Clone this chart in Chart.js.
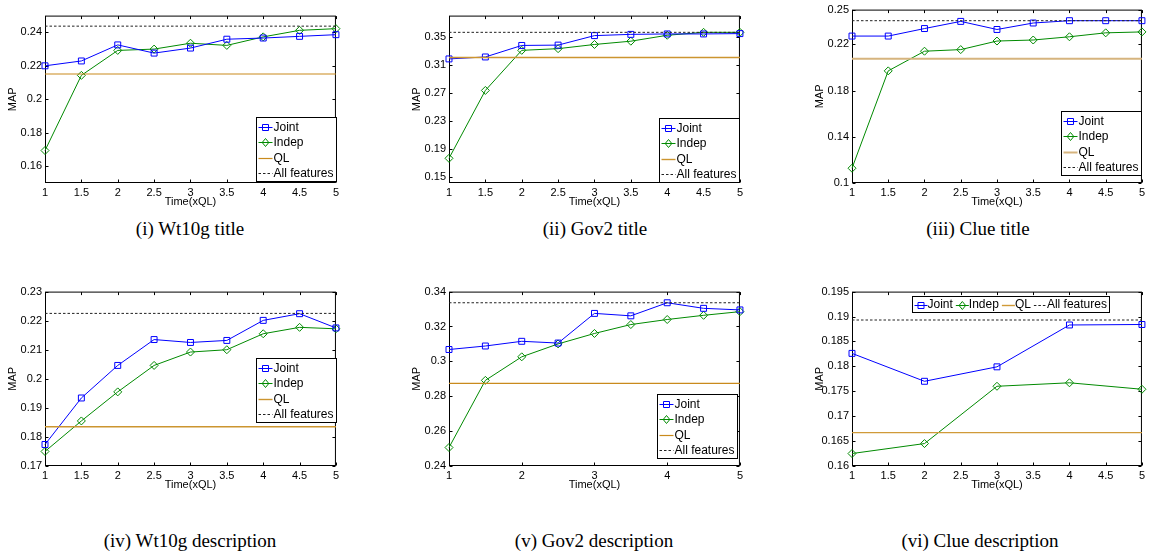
<!DOCTYPE html>
<html>
<head>
<meta charset="utf-8">
<script src="https://cdn.jsdelivr.net/npm/chart.js@4.4.1/dist/chart.umd.min.js"></script>
<style>
  html, body { margin: 0; padding: 0; background: #fff; overflow: hidden; }
  #wrap { position: relative; width: 1149px; height: 553px; background: #fff; }
  canvas { position: absolute; }
  .cap { position: absolute; font-family: "Liberation Serif", "Times New Roman", serif; font-size: 19px; color: #000; white-space: nowrap; transform: translate(-50%, -50%); }
</style>
</head>
<body>
<div id="wrap"></div>
<script>
// ---------------- DATA ----------------
const timeFine = [1, 1.5, 2, 2.5, 3, 3.5, 4, 4.5, 5];
const timeCoarse = [1, 2, 3, 4, 5];
const xTicksFine = [1, 1.5, 2, 2.5, 3, 3.5, 4, 4.5, 5];
const xTicksCoarse = [1, 2, 3, 4, 5];
const seriesNames = ['Joint', 'Indep', 'QL', 'All features'];

// (i) Wt10g title
const wt10gTitleJoint = [0.2200, 0.2229, 0.2325, 0.2276, 0.2306, 0.2359, 0.2366, 0.2376, 0.2386];
const wt10gTitleIndep = [0.1694, 0.2143, 0.2292, 0.2300, 0.2335, 0.2322, 0.2373, 0.2412, 0.2422];
const wt10gTitleQL = 0.2151;
const wt10gTitleAll = 0.2437;
const wt10gTitleYRange = [0.15, 0.25];
const wt10gTitleYTicks = [0.16, 0.18, 0.2, 0.22, 0.24];

// (ii) Gov2 title
const gov2TitleJoint = [0.3189, 0.3217, 0.3382, 0.3387, 0.3523, 0.3541, 0.3547, 0.3547, 0.3552];
const gov2TitleIndep = [0.1764, 0.2737, 0.3312, 0.3336, 0.3396, 0.3443, 0.3528, 0.3570, 0.3570];
const gov2TitleQL = 0.3209;
const gov2TitleAll = 0.3570;
const gov2TitleYRange = [0.141, 0.381];
const gov2TitleYTicks = [0.15, 0.19, 0.23, 0.27, 0.31, 0.35];

// (iii) Clue title
const clueTitleJoint = [0.2271, 0.2271, 0.2336, 0.2398, 0.2328, 0.2384, 0.2404, 0.2404, 0.2404];
const clueTitleIndep = [0.1128, 0.1970, 0.2140, 0.2154, 0.2228, 0.2237, 0.2265, 0.2299, 0.2307];
const clueTitleQL = 0.2075;
const clueTitleAll = 0.2404;
const clueTitleYRange = [0.1, 0.25];
const clueTitleYTicks = [0.1, 0.14, 0.18, 0.22, 0.25];

// (iv) Wt10g description
const wt10gDescJoint = [0.1774, 0.1934, 0.2046, 0.2135, 0.2125, 0.2132, 0.2201, 0.2224, 0.2175];
const wt10gDescIndep = [0.1750, 0.1855, 0.1955, 0.2046, 0.2092, 0.2100, 0.2155, 0.2177, 0.2172];
const wt10gDescQL = 0.1835;
const wt10gDescAll = 0.2225;
const wt10gDescYRange = [0.17, 0.23];
const wt10gDescYTicks = [0.17, 0.18, 0.19, 0.2, 0.21, 0.22, 0.23];

// (v) Gov2 description
const gov2DescJoint = [0.3068, 0.3088, 0.3115, 0.3105, 0.3275, 0.3261, 0.3336, 0.3304, 0.3295];
const gov2DescIndep = [0.2506, 0.2891, 0.3026, 0.3100, 0.3160, 0.3211, 0.3240, 0.3264, 0.3285];
const gov2DescQL = 0.2874;
const gov2DescAll = 0.3336;
const gov2DescYRange = [0.24, 0.34];
const gov2DescYTicks = [0.24, 0.26, 0.28, 0.3, 0.32, 0.34];

// (vi) Clue description
const clueDescJoint = [0.1826, 0.1770, 0.1799, 0.1883, 0.1884];
const clueDescIndep = [0.1625, 0.1645, 0.1760, 0.1767, 0.1754];
const clueDescQL = 0.1667;
const clueDescAll = 0.1893;
const clueDescYRange = [0.16, 0.195];
const clueDescYTicks = [0.16, 0.165, 0.17, 0.175, 0.18, 0.185, 0.19, 0.195];

const captions = ['(i) Wt10g title', '(ii) Gov2 title', '(iii) Clue title',
                  '(iv) Wt10g description', '(v) Gov2 description', '(vi) Clue description'];

// ---------------- LAYOUT / STYLE ----------------
const FONT = '"Liberation Sans", Arial, Helvetica, sans-serif';
const PAD_TOP = 7, Y_W = 45, X_H = 30, PAD_R = 6;

const panels = [
  { rect: [45, 336, 13, 183],  x: timeFine,   xt: xTicksFine,   joint: wt10gTitleJoint, indep: wt10gTitleIndep, ql: wt10gTitleQL, all: wt10gTitleAll, yr: wt10gTitleYRange, yt: wt10gTitleYTicks, leg: { mode: 'v', x: 211, y: 101 }, qlColor: '#c98a1c', qlW: 1.2, cap: [190, 229] },
  { rect: [449, 740, 13, 183], x: timeFine,   xt: xTicksFine,   joint: gov2TitleJoint,  indep: gov2TitleIndep,  ql: gov2TitleQL,  all: gov2TitleAll,  yr: gov2TitleYRange,  yt: gov2TitleYTicks,  leg: { mode: 'v', x: 210, y: 102 }, qlColor: '#cc9530', qlW: 1.4, cap: [595, 229] },
  { rect: [852, 1142, 7, 183], x: timeFine,   xt: xTicksFine,   joint: clueTitleJoint,  indep: clueTitleIndep,  ql: clueTitleQL,  all: clueTitleAll,  yr: clueTitleYRange,  yt: clueTitleYTicks,  leg: { mode: 'v', x: 209, y: 101 }, qlColor: '#d6b47e', qlW: 2,   cap: [978, 229] },
  { rect: [45, 336, 289, 466], x: timeFine,   xt: xTicksFine,   joint: wt10gDescJoint,  indep: wt10gDescIndep,  ql: wt10gDescQL,  all: wt10gDescAll,  yr: wt10gDescYRange,  yt: wt10gDescYTicks,  leg: { mode: 'v', x: 211, y: 66 },  qlColor: '#cc9530', qlW: 1.4, cap: [190, 541] },
  { rect: [449, 740, 289, 466], x: timeFine,  xt: xTicksCoarse, joint: gov2DescJoint,   indep: gov2DescIndep,   ql: gov2DescQL,   all: gov2DescAll,   yr: gov2DescYRange,   yt: gov2DescYTicks,   leg: { mode: 'v', x: 208, y: 102 }, qlColor: '#c98a1c', qlW: 1.2, cap: [594, 541] },
  { rect: [852, 1142, 289, 466], x: timeCoarse, xt: xTicksFine, joint: clueDescJoint,   indep: clueDescIndep,   ql: clueDescQL,   all: clueDescAll,   yr: clueDescYRange,   yt: clueDescYTicks,   leg: { mode: 'h', x: 60, y: 4 },   qlColor: '#d09a38', qlW: 1.4, cap: [980, 541] }
];

function drawMarker(ctx, style, x, y, color) {
  ctx.save();
  ctx.strokeStyle = color; ctx.lineWidth = 1; ctx.setLineDash([]);
  ctx.beginPath();
  if (style === 'rect') {
    ctx.rect(x - 3, y - 3, 6, 6);
  } else if (style === 'rectRot') {
    ctx.moveTo(x, y - 4); ctx.lineTo(x + 3.3, y); ctx.lineTo(x, y + 4); ctx.lineTo(x - 3.3, y); ctx.closePath();
  }
  ctx.stroke();
  ctx.restore();
}

function drawSample(ctx, d, x, cy, w) {
  ctx.save();
  ctx.strokeStyle = d.borderColor;
  ctx.lineWidth = d.borderWidth;
  ctx.setLineDash(d.borderDash || []);
  ctx.beginPath();
  ctx.moveTo(x, Math.round(cy) + 0.5); ctx.lineTo(x + w, Math.round(cy) + 0.5);
  ctx.stroke();
  ctx.restore();
  if (d.pointRadius > 0) drawMarker(ctx, d.pointStyle, x + w / 2, Math.round(cy) + 0.5, d.borderColor);
}

const boxPlugin = {
  id: 'matlabBox',
  beforeDatasetsDraw(chart) {
    const { ctx, chartArea: ca, scales } = chart;
    const xs = scales.x, ys = scales.y;
    ctx.save();
    ctx.strokeStyle = '#000'; ctx.lineWidth = 1;
    const L = ca.left + 0.5, R = ca.right - 0.5, T = ca.top + 0.5, B = ca.bottom - 0.5;
    ctx.beginPath();
    xs.ticks.forEach(t => {
      const px = Math.round(xs.getPixelForValue(t.value)) + 0.5;
      ctx.moveTo(px, B); ctx.lineTo(px, B - 3);
      ctx.moveTo(px, T); ctx.lineTo(px, T + 3);
    });
    ys.ticks.forEach(t => {
      const py = Math.round(ys.getPixelForValue(t.value)) + 0.5;
      ctx.moveTo(L, py); ctx.lineTo(L + 3, py);
      ctx.moveTo(R, py); ctx.lineTo(R - 3, py);
    });
    ctx.stroke();
    ctx.strokeRect(L, T, R - L, B - T);
    ctx.restore();
  }
};

const insetLegend = {
  id: 'insetLegend',
  afterDatasetsDraw(chart, args, opts) {
    const { ctx, chartArea: ca } = chart;
    const items = chart.data.datasets;
    ctx.save();
    ctx.font = '12px ' + FONT;
    ctx.textBaseline = 'middle';
    ctx.textAlign = 'left';
    const x0 = Math.round(ca.left + opts.x) + 0.5, y0 = Math.round(ca.top + opts.y) + 0.5;
    if (opts.mode === 'v') {
      const sampleW = 14, rowH = 15.3;
      const textW = Math.max(...items.map(d => ctx.measureText(d.label).width));
      const w = Math.round(2 + sampleW + 1 + textW + 3), h = Math.round(items.length * rowH + 3);
      ctx.fillStyle = '#fff'; ctx.fillRect(x0, y0, w, h);
      ctx.strokeStyle = '#000'; ctx.lineWidth = 1; ctx.strokeRect(x0, y0, w, h);
      items.forEach((d, i) => {
        const cy = y0 + 2 + rowH * (i + 0.5);
        drawSample(ctx, d, x0 + 2, cy, sampleW);
        ctx.fillStyle = '#000';
        ctx.fillText(d.label, x0 + 2 + sampleW + 1, cy + 0.5);
      });
    } else {
      const sampleW = 13, gap = 3;
      let total = 2;
      items.forEach((d, i) => { total += sampleW + ctx.measureText(d.label).width + (i < items.length - 1 ? gap : 3); });
      const w = Math.round(total), h = 16;
      ctx.fillStyle = '#fff'; ctx.fillRect(x0, y0, w, h);
      ctx.strokeStyle = '#000'; ctx.lineWidth = 1; ctx.strokeRect(x0, y0, w, h);
      let cx = x0 + 2;
      const cy = y0 + h / 2;
      items.forEach(d => {
        drawSample(ctx, d, cx, cy, sampleW);
        cx += sampleW;
        ctx.fillStyle = '#000';
        ctx.fillText(d.label, cx, cy + 0.5);
        cx += ctx.measureText(d.label).width + gap;
      });
    }
    ctx.restore();
  }
};

const wrap = document.getElementById('wrap');

panels.forEach((p, idx) => {
  const [L, R, T, B] = p.rect;
  const cw = (R - L) + Y_W + PAD_R, ch = (B - T) + PAD_TOP + X_H;
  const cv = document.createElement('canvas');
  cv.width = cw; cv.height = ch;
  cv.style.left = (L - Y_W) + 'px';
  cv.style.top = (T - PAD_TOP) + 'px';
  cv.style.width = cw + 'px'; cv.style.height = ch + 'px';
  wrap.appendChild(cv);

  const toPts = (xs, ys) => xs.map((x, i) => ({ x: x, y: ys[i] }));
  const xFirst = p.x[0], xLast = p.x[p.x.length - 1];

  new Chart(cv.getContext('2d'), {
    type: 'line',
    data: {
      datasets: [
        { label: seriesNames[0], data: toPts(p.x, p.joint), borderColor: '#0000ff', backgroundColor: 'rgba(0,0,0,0)', borderWidth: 1, pointStyle: 'rect', pointRadius: 4.2, pointBorderWidth: 1, pointBackgroundColor: 'rgba(0,0,0,0)', pointBorderColor: '#0000ff', order: 3, clip: false },
        { label: seriesNames[1], data: toPts(p.x, p.indep), borderColor: '#008a00', backgroundColor: 'rgba(0,0,0,0)', borderWidth: 1, pointStyle: 'rectRot', pointRadius: 4, pointBorderWidth: 1, pointBackgroundColor: 'rgba(0,0,0,0)', pointBorderColor: '#008a00', order: 4, clip: false },
        { label: seriesNames[2], data: [{ x: xFirst, y: p.ql }, { x: xLast, y: p.ql }], borderColor: p.qlColor, borderWidth: p.qlW, pointRadius: 0, order: 2, clip: false },
        { label: seriesNames[3], data: [{ x: xFirst, y: p.all }, { x: xLast, y: p.all }], borderColor: '#222222', borderWidth: 1, borderDash: [2.5, 2], pointRadius: 0, order: 1, clip: false }
      ]
    },
    options: {
      responsive: false,
      animation: false,
      devicePixelRatio: 1,
      layout: { padding: { top: PAD_TOP, right: PAD_R, left: 0, bottom: 0 } },
      plugins: {
        legend: { display: false },
        tooltip: { enabled: false },
        insetLegend: p.leg
      },
      elements: { line: { tension: 0 } },
      scales: {
        x: {
          type: 'linear', min: 1, max: 5,
          afterBuildTicks: s => { s.ticks = p.xt.map(v => ({ value: v })); },
          afterFit: s => { s.height = X_H; },
          ticks: { autoSkip: false, maxRotation: 0, padding: 3, color: '#000', font: { size: 11, family: FONT }, callback: v => String(v) },
          grid: { display: false, drawTicks: false },
          border: { display: false },
          title: { display: true, text: 'Time(xQL)', color: '#000', font: { size: 11, family: FONT }, padding: { top: 0, bottom: 4 } }
        },
        y: {
          type: 'linear', min: p.yr[0], max: p.yr[1],
          afterBuildTicks: s => { s.ticks = p.yt.map(v => ({ value: v })); },
          afterFit: s => { s.width = Y_W; },
          ticks: { autoSkip: false, padding: 3, color: '#000', font: { size: 11, family: FONT }, callback: v => String(v) },
          grid: { display: false, drawTicks: false },
          border: { display: false },
          title: { display: true, text: 'MAP', color: '#000', font: { size: 11, family: FONT }, padding: { top: 6, bottom: 0 } }
        }
      }
    },
    plugins: [boxPlugin, insetLegend]
  });

  const cap = document.createElement('div');
  cap.className = 'cap';
  cap.textContent = captions[idx];
  cap.style.left = p.cap[0] + 'px';
  cap.style.top = p.cap[1] + 'px';
  wrap.appendChild(cap);
});
</script>
</body>
</html>
